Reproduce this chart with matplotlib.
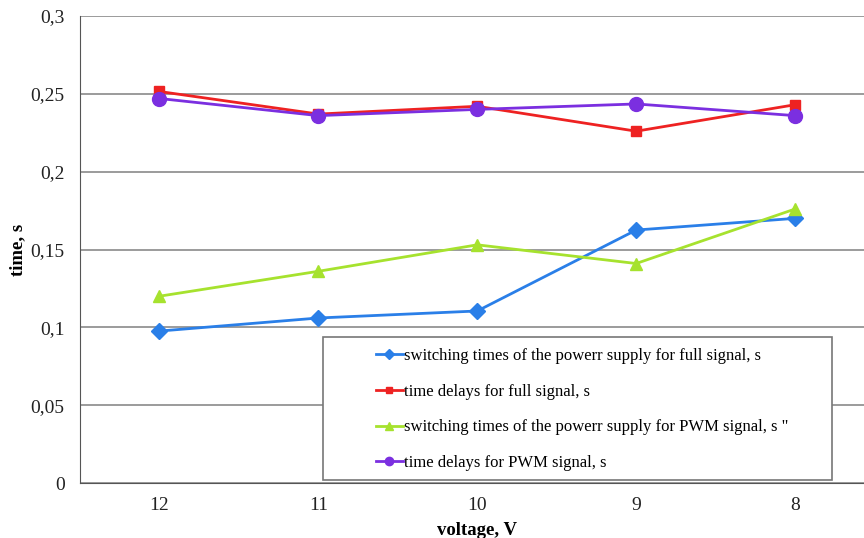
import matplotlib
matplotlib.use("Agg")
import matplotlib.pyplot as plt
from matplotlib.ticker import FuncFormatter
from matplotlib.patches import Rectangle

categories = ["12", "11", "10", "9", "8"]
switch_full = [0.0976, 0.106, 0.1105, 0.1625, 0.170]
delay_full = [0.2515, 0.237, 0.242, 0.226, 0.243]
switch_pwm = [0.120, 0.136, 0.153, 0.141, 0.176]
delay_pwm = [0.247, 0.236, 0.240, 0.2435, 0.236]
yticks = [0, 0.05, 0.1, 0.15, 0.2, 0.25, 0.3]

labels = [
    "switching times of the powerr supply for full signal, s",
    "time delays for full signal, s",
    "switching times of the powerr supply for PWM signal, s \"",
    "time delays for PWM signal, s",
]

plt.rcParams['font.family'] = ['Liberation Serif', 'DejaVu Serif']

fig = plt.figure(figsize=(8.64, 5.38), dpi=100)
W, H = 864, 538
left, right, top, bottom = 80, 874.5, 16, 483
ax = fig.add_axes([left / W, 1 - bottom / H, (right - left) / W, (bottom - top) / H])

x = list(range(len(categories)))
ax.plot(x, switch_full, color="#2a7fe8", lw=2, marker="D", ms=8, label=labels[0])
ax.plot(x, delay_full, color="#ee2222", lw=2, marker="s", ms=7.5, label=labels[1])
ax.plot(x, switch_pwm, color="#a6e22e", lw=2, marker="^", ms=9, label=labels[2])
ax.plot(x, delay_pwm, color="#7b2fe0", lw=2, marker="o", ms=10, label=labels[3])

ax.set_xlim(-0.5, len(categories) - 0.5)
ax.set_ylim(0, 0.3)
ax.set_xticks(x)
ax.set_xticklabels(categories)
ax.set_yticks(yticks)
ax.yaxis.set_major_formatter(FuncFormatter(lambda v, p: ("%g" % v).replace(".", ",")))
ax.tick_params(axis="both", length=0, labelsize=14, colors="#222222")
ax.tick_params(axis="y", pad=11)
ax.tick_params(axis="x", pad=10)
ax.yaxis.grid(True, color="#8a8a8a", lw=1.2)
ax.set_axisbelow(True)
for s in ["left", "bottom", "top"]:
    ax.spines[s].set_color("#555555")
ax.spines["top"].set_visible(False)
ax.spines["right"].set_visible(False)

ax.set_ylabel("time, s", fontsize=13.5, fontweight="bold")
ax.yaxis.set_label_coords((26 - left) / (right - left), 0.5)
ax.set_xlabel("voltage, V", fontsize=13.5, fontweight="bold", labelpad=6)

# legend box
fig.add_artist(Rectangle((323 / W, 1 - 480 / H), (832 - 323) / W, (480 - 337) / H,
                         transform=fig.transFigure, facecolor="white",
                         edgecolor="#777777", lw=1.2, zorder=5))
leg = fig.legend(loc="upper left", bbox_to_anchor=(371 / W, 1 - 343 / H),
                 frameon=False, fontsize=12, handlelength=1.6, labelspacing=1.18,
                 handletextpad=0.1, borderpad=0.3, borderaxespad=0, markerscale=0.6)
leg.set_zorder(6)

fig.savefig("out.png", dpi=100)
